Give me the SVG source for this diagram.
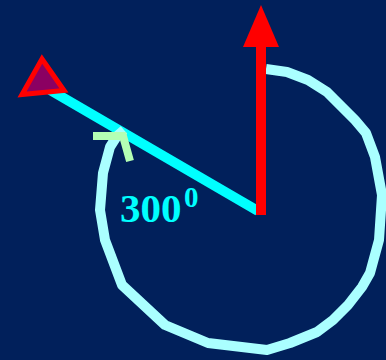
<svg xmlns="http://www.w3.org/2000/svg" width="386" height="360" viewBox="0 0 386 360">
<style>
.bg{fill:#01205B}
.ray{stroke:#00FFFF;stroke-width:10;fill:none}
.arc{stroke:#AAFFFF;stroke-width:10;fill:none;stroke-linejoin:round}
.tick{stroke:#B4FFB4;stroke-width:8;fill:none;stroke-linejoin:miter}
.label{font-family:"Liberation Serif","Times New Roman",serif;font-weight:bold;fill:#00FFFF}
</style>
<rect class="bg" x="0" y="0" width="386" height="360"/>
<g id="connectors">
<line id="ray" class="ray" x1="258" y1="211" x2="50" y2="90"/>
<polyline id="arc" class="arc" points="266,69 287,72 308,80 327,92 342,107 355,120 366,133 375,157 382,195 379,240 370,273 362,287 348,305 333,320 317,332 290,343 267,350 208,343 165,325 122,285 105,240 100,210 103,173 110,147 117,136 124,130"/>
<polyline id="turn-arrow" class="tick" points="93,136 123,136 130,161"/>
</g>
<g id="start-arrow">
<rect x="256" y="44" width="10" height="171" fill="#FF0000"/>
<polygon points="261,5 279,47 243,47" fill="#FF0000"/>
</g>
<g id="end-marker">
<polygon points="42,59 22,94.5 64,90.5" fill="#8B0062" stroke="#FF0000" stroke-width="5" stroke-linejoin="miter"/>
</g>
<g id="angle-label">
<text class="label" x="120" y="222" font-size="41">300</text>
<text class="label" x="184" y="207" font-size="29">0</text>
</g>
</svg>
